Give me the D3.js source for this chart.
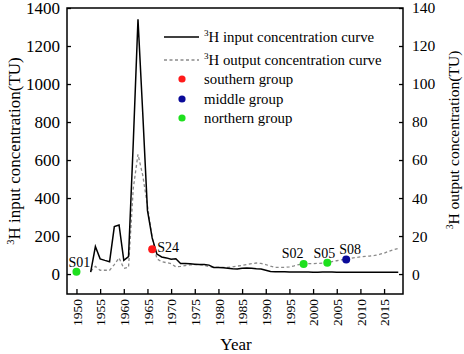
<!DOCTYPE html>
<html lang="en">
  <head>
    <meta charset="UTF-8" />
    <title>Tritium input / output</title>
    <script src="https://cdn.jsdelivr.net/npm/d3@7"></script>
    <style>
      body { margin: 0; background: #fff; }
      svg, svg text { font-family: "Liberation Serif", "Times New Roman", serif; }
    </style>
  </head>
  <body>
    <div class="chart"></div>
    <script>
    // input curve (left axis, TU)
    var inYears = d3.range(1953, 2019);
    var inputTU = [10, 145, 80, 72, 65, 250, 258, 72, 92, 690,
                   1340, 850, 335, 190, 105, 90, 85, 78, 80, 55,
                   55, 54, 52, 50, 50, 47, 35, 35, 33, 31,
                   28, 26, 30, 32, 30, 28, 27, 20, 13, 12,
                   12, 12, 11, 11, 11, 11, 11, 10, 10, 11,
                   11, 11, 10, 10, 10, 10, 10, 9, 9, 9,
                   9, 9, 9, 9, 9, 9];

    // output curve (right axis, TU)
    var outYears = d3.range(1953, 2019);
    var outputTU = [1.5, 4, 2, 2, 2, 5, 8.5, 3, 3.5, 45,
                    63, 52, 36, 19, 8, 6.5, 6, 5.5, 3.8, 4,
                    4.5, 4.8, 5, 5, 4.5, 4, 3.5, 3.5, 3.5, 3.5,
                    3.8, 4.2, 4.5, 5, 5.5, 5.8, 5.6, 5, 4.2, 3.5,
                    3.5, 3.5, 3.8, 4.3, 5, 5.3, 5.5, 5.5, 5.6, 5.8,
                    6, 6.5, 7, 7.5, 7.8, 8.3, 8.7, 9, 9.3, 9.5,
                    9.8, 10.3, 11, 12, 12.8, 13.5];

    // samples (right axis value)
    var sampleNames = ["S01", "S24", "S02", "S05", "S08"];
    var sampleYears = [1950, 1966, 1998, 2003, 2007];
    var sampleTU = [1.2, 13, 5.3, 6, 7.7];
    var sampleGroup = ["northern", "southern", "northern", "northern", "middle"];

    var groups = ["southern", "middle", "northern"];
    var groupColors = ["#ff1a1a", "#0a0a99", "#1ee01e"];

    var xTicks = d3.range(1950, 2016, 5);
    var leftTicks = d3.range(0, 1401, 200);
    var rightTicks = d3.range(0, 141, 20);

    var w = 464, h = 354;
    var L = 67, R = 403, T = 8, B = 294;
    var serif = "'Liberation Serif', 'Times New Roman', serif";

    var svg = d3.select(".chart").append("svg")
                .attr("width", w)
                .attr("height", h)
                .attr("font-family", serif);

    var x = d3.scaleLinear().domain([1948, 2019]).range([L, R]);
    var yL = d3.scaleLinear().domain([-105, 1400]).range([B, T]);
    var yR = d3.scaleLinear().domain([-10.5, 140]).range([B, T]);
    var color = d3.scaleOrdinal().domain(groups).range(groupColors);

    var inData = inYears.map(function(d, i) { return [d, inputTU[i]]; });
    var outData = outYears.map(function(d, i) { return [d, outputTU[i]]; });

    // lines
    svg.append("path")
       .datum(outData)
       .attr("fill", "none")
       .attr("stroke", "#8a8a8a")
       .attr("stroke-width", 1.3)
       .attr("stroke-dasharray", "3,2.5")
       .attr("d", d3.line().x(function(d) { return x(d[0]); }).y(function(d) { return yR(d[1]); }));

    svg.append("path")
       .datum(inData)
       .attr("fill", "none")
       .attr("stroke", "#000")
       .attr("stroke-width", 1.5)
       .attr("d", d3.line().x(function(d) { return x(d[0]); }).y(function(d) { return yL(d[1]); }));

    // axes
    var gx = svg.append("g")
       .attr("transform", "translate(0," + B + ")")
       .call(d3.axisBottom(x).tickValues(xTicks).tickFormat(d3.format("d"))
               .tickSizeInner(-5).tickSizeOuter(0));
    gx.selectAll("text")
      .attr("transform", "rotate(-90)")
      .attr("x", -5).attr("y", 0).attr("dy", "0.35em")
      .style("text-anchor", "end")
      .attr("font-size", 13.5);

    var gl = svg.append("g")
       .attr("transform", "translate(" + L + ",0)")
       .call(d3.axisLeft(yL).tickValues(leftTicks).tickFormat(d3.format("d"))
               .tickSizeInner(-4).tickSizeOuter(0).tickPadding(7));
    gl.selectAll("text").attr("font-size", 17);

    var gr = svg.append("g")
       .attr("transform", "translate(" + R + ",0)")
       .call(d3.axisRight(yR).tickValues(rightTicks).tickFormat(d3.format("d"))
               .tickSizeInner(-4).tickSizeOuter(0).tickPadding(9));
    gr.selectAll("text").attr("font-size", 15.5);

    [gx, gl, gr].forEach(function(g) {
      g.attr("font-family", serif).attr("font-size", null);
    });
    svg.selectAll(".domain").remove();
    svg.selectAll(".tick text").attr("fill", "#000");
    svg.selectAll(".tick line").attr("stroke", "#000").attr("stroke-width", 1.3);

    svg.append("rect")
       .attr("x", L).attr("y", T)
       .attr("width", R - L).attr("height", B - T)
       .attr("fill", "none")
       .attr("stroke", "#000")
       .attr("stroke-width", 1.5);

    // samples
    var labelPos = {
      S01: { dx: -8, dy: -5, anchor: "start" },
      S24: { dx: 5, dy: 3, anchor: "start" },
      S02: { dx: 0, dy: -6, anchor: "end" },
      S05: { dx: -3, dy: -5, anchor: "middle" },
      S08: { dx: 4, dy: -5, anchor: "middle" }
    };

    sampleNames.forEach(function(name, i) {
      var cx = x(sampleYears[i]), cy = yR(sampleTU[i]);
      svg.append("circle")
         .attr("cx", cx).attr("cy", cy).attr("r", 4)
         .attr("fill", color(sampleGroup[i]));
      var p = labelPos[name];
      svg.append("text")
         .attr("x", cx + p.dx).attr("y", cy + p.dy)
         .attr("text-anchor", p.anchor)
         .attr("font-size", 14)
         .text(name);
    });

    // axis titles
    function supTitle(sel, rest, size) {
      sel.append("tspan").attr("font-size", size * 0.62).attr("dy", -size * 0.38).text("3");
      sel.append("tspan").attr("dy", size * 0.38).text(rest);
    }

    var tl = svg.append("text")
       .attr("transform", "translate(20,151) rotate(-90)")
       .attr("text-anchor", "middle")
       .attr("font-size", 17);
    supTitle(tl, "H input concentration(TU)", 17);

    var tr = svg.append("text")
       .attr("transform", "translate(459,140) rotate(-90)")
       .attr("text-anchor", "middle")
       .attr("font-size", 15.5);
    supTitle(tr, "H output concentration(TU)", 15.5);

    svg.append("text")
       .attr("x", 236).attr("y", 350)
       .attr("text-anchor", "middle")
       .attr("font-size", 17)
       .text("Year");

    // legend
    var lg = svg.append("g").attr("transform", "translate(164,0)");
    var legRows = [37, 60, 79, 99, 118];
    var legSize = 14.8;

    lg.append("line").attr("x1", 0).attr("x2", 35).attr("y1", legRows[0]).attr("y2", legRows[0])
      .attr("stroke", "#000").attr("stroke-width", 1.5);
    lg.append("line").attr("x1", 0).attr("x2", 35).attr("y1", legRows[1]).attr("y2", legRows[1])
      .attr("stroke", "#8a8a8a").attr("stroke-width", 1.3).attr("stroke-dasharray", "3,2.5");

    var t1 = lg.append("text").attr("x", 40).attr("y", legRows[0] + 5).attr("font-size", legSize);
    supTitle(t1, "H input concentration curve", legSize);
    var t2 = lg.append("text").attr("x", 40).attr("y", legRows[1] + 5).attr("font-size", legSize);
    supTitle(t2, "H output concentration curve", legSize);

    groups.forEach(function(g, i) {
      var yy = legRows[i + 2];
      lg.append("circle").attr("cx", 18).attr("cy", yy).attr("r", 3.6).attr("fill", color(g));
      lg.append("text").attr("x", 40).attr("y", yy + 5).attr("font-size", legSize).text(g + " group");
    });
    </script>
  </body>
</html>
